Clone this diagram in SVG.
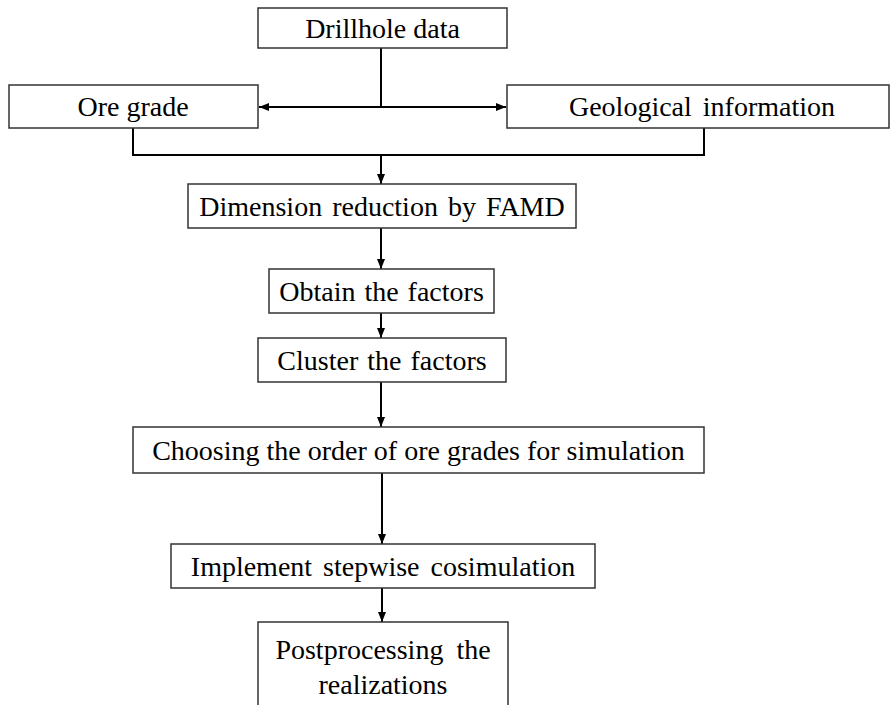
<svg xmlns="http://www.w3.org/2000/svg" width="890" height="705" viewBox="0 0 890 705">
<style>
.box{fill:#fff;stroke:#333;stroke-width:1.5}
.lbl{font-family:"Liberation Serif","Times New Roman",serif;font-size:28px;fill:#000;text-anchor:middle}
.con{fill:none;stroke:#000;stroke-width:2}
</style>
<defs>
<marker id="ah" markerUnits="userSpaceOnUse" markerWidth="10" markerHeight="10" viewBox="0 0 10 10" refX="10" refY="5" orient="auto">
<path d="M0,1 L10,5 L0,9 Z" fill="#000"/>
</marker>
</defs>
<rect width="890" height="705" fill="#fff"/>
<g id="connectors">
<path class="con" d="M381,48 V107"/>
<path class="con" d="M381,107 H259" marker-end="url(#ah)"/>
<path class="con" d="M381,107 H506" marker-end="url(#ah)"/>
<path class="con" d="M133,128 V155 H704 V128"/>
<path class="con" d="M381,155 V184" marker-end="url(#ah)"/>
<path class="con" d="M381,228 V269" marker-end="url(#ah)"/>
<path class="con" d="M381,313 V338" marker-end="url(#ah)"/>
<path class="con" d="M381,382 V427" marker-end="url(#ah)"/>
<path class="con" d="M382,473 V544" marker-end="url(#ah)"/>
<path class="con" d="M382,588 V622" marker-end="url(#ah)"/>
</g>
<g id="drillhole"><rect class="box" x="258" y="8" width="249" height="40"/><text class="lbl" x="382.5" y="37.5">Drillhole data</text></g>
<g id="oregrade"><rect class="box" x="9" y="85" width="249" height="43"/><text class="lbl" x="133" y="116">Ore grade</text></g>
<g id="geological"><rect class="box" x="507" y="85" width="382" height="43"/><text class="lbl" x="702" y="116" style="word-spacing:4px">Geological information</text></g>
<g id="famd"><rect class="box" x="188" y="184" width="388" height="44"/><text class="lbl" x="382" y="215.5" style="word-spacing:3px">Dimension reduction by FAMD</text></g>
<g id="obtain"><rect class="box" x="269" y="269" width="225" height="44"/><text class="lbl" x="381.5" y="300.5" style="word-spacing:2px">Obtain the factors</text></g>
<g id="cluster"><rect class="box" x="258" y="338" width="248" height="44"/><text class="lbl" x="382" y="369.5" style="word-spacing:2px">Cluster the factors</text></g>
<g id="choosing"><rect class="box" x="133" y="427" width="571" height="46"/><text class="lbl" x="418.5" y="459.5">Choosing the order of ore grades for simulation</text></g>
<g id="implement"><rect class="box" x="171" y="544" width="424" height="44"/><text class="lbl" x="383" y="576" style="word-spacing:4px">Implement stepwise cosimulation</text></g>
<g id="postprocessing"><rect class="box" x="258" y="622" width="250" height="100"/><text class="lbl" x="383" y="659" style="word-spacing:6px">Postprocessing the</text><text class="lbl" x="383" y="694">realizations</text></g>
</svg>
